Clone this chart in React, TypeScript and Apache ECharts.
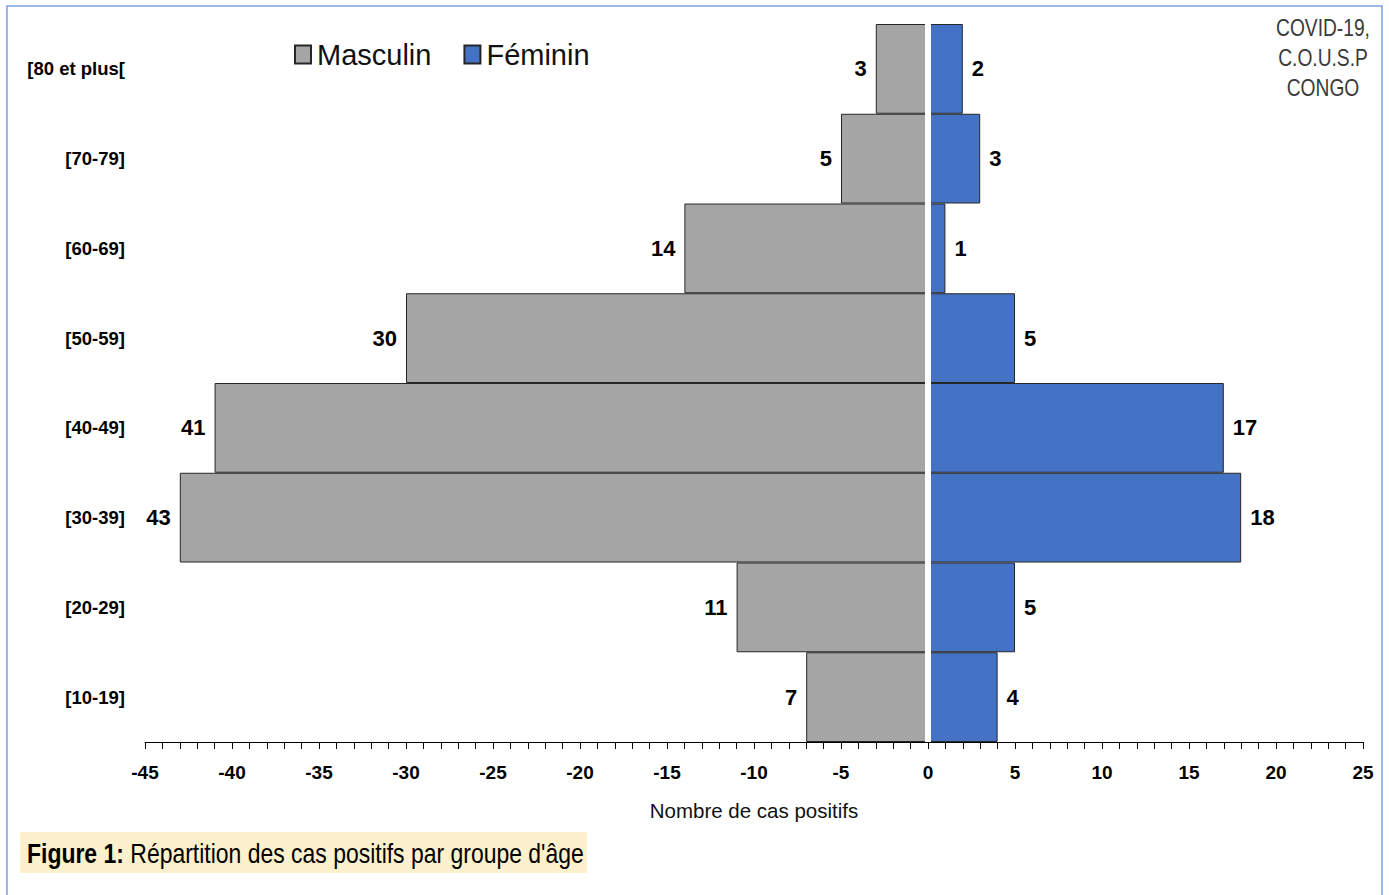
import React, { useEffect, useRef } from "react";
import * as echarts from "echarts";

const categories = ["[10-19]", "[20-29]", "[30-39]", "[40-49]", "[50-59]", "[60-69]", "[70-79]", "[80 et plus["];
const masculin = [7, 11, 43, 41, 30, 14, 5, 3];
const feminin = [4, 5, 18, 17, 5, 1, 3, 2];
const seriesNames = ["Masculin", "Féminin"];
const xMin = -45;
const xMax = 25;
const xStep = 5;

const FONT = "'Liberation Sans Narrow', 'Liberation Sans', Arial, sans-serif";

export default function App() {
  const ref = useRef<HTMLDivElement>(null);
  useEffect(() => {
    if (!ref.current) return;
    const chart = echarts.init(ref.current, null, { renderer: "svg" });
    chart.setOption({
      animation: false,
      backgroundColor: "#ffffff",
      textStyle: { fontFamily: FONT },
      grid: { left: 145, right: 26, top: 24, bottom: 153, containLabel: false, outerBoundsMode: "none" },
      legend: {
        left: 289,
        top: 35,
        icon: "rect",
        itemWidth: 16,
        itemHeight: 18,
        itemGap: 32,
        data: seriesNames,
        textStyle: { fontFamily: FONT, fontSize: 29, color: "#111", padding: [0, 0, 0, 1] },
      },
      xAxis: {
        type: "value",
        min: xMin,
        max: xMax,
        interval: xStep,
        splitLine: { show: false },
        axisLine: { show: true, lineStyle: { color: "#000", width: 1 } },
        axisTick: { show: true, length: 7, lineStyle: { color: "#000" } },
        minorTick: { show: true, splitNumber: 5, length: 7, lineStyle: { color: "#000" } },
        axisLabel: { fontFamily: FONT, fontSize: 19, fontWeight: "bold", color: "#000", margin: 21 },
        name: "Nombre de cas positifs",
        nameLocation: "middle",
        nameGap: 58,
        nameTextStyle: { fontFamily: FONT, fontSize: 20.5, color: "#111" },
      },
      yAxis: {
        type: "category",
        data: categories,
        axisLine: { show: false },
        axisTick: { show: false },
        axisLabel: { fontFamily: FONT, fontSize: 18.5, fontWeight: "bold", color: "#000", margin: 20 },
      },
      series: [
        {
          name: seriesNames[0],
          type: "bar",
          data: masculin.map((v) => -v),
          barGap: "-100%",
          barCategoryGap: 0,
          itemStyle: { color: "#a5a5a5", borderColor: "#262626", borderWidth: 1 },
          label: {
            show: true,
            position: "left",
            distance: 9,
            formatter: (p: any) => String(Math.abs(p.value)),
            fontFamily: FONT,
            fontSize: 22,
            fontWeight: "bold",
            color: "#000",
          },
        },
        {
          name: seriesNames[1],
          type: "bar",
          data: feminin,
          barGap: "-100%",
          barCategoryGap: 0,
          itemStyle: { color: "#4472c4", borderColor: "#262626", borderWidth: 1 },
          label: {
            show: true,
            position: "right",
            distance: 9,
            fontFamily: FONT,
            fontSize: 22,
            fontWeight: "bold",
            color: "#000",
          },
          markLine: {
            silent: true,
            symbol: "none",
            label: { show: false },
            lineStyle: { color: "#ffffff", width: 6, type: "solid" },
            data: [{ xAxis: 0 }],
            z: 10,
          },
        },
      ],
      graphic: [
        {
          type: "rect",
          shape: { x: 7, y: 6, width: 1375, height: 900 },
          style: { fill: "none", stroke: "#7b9fe0", lineWidth: 1.5 },
          silent: true,
        },
        {
          type: "text",
          x: 1323,
          y: 13,
          scaleX: 0.8,
          style: {
            text: "COVID-19,\nC.O.U.S.P\nCONGO",
            align: "center",
            verticalAlign: "top",
            fill: "#3a3a3a",
            fontFamily: "'Liberation Sans', sans-serif",
            fontSize: 24,
            lineHeight: 30,
            fontWeight: "normal",
          },
        },
        {
          type: "rect",
          shape: { x: 20, y: 832, width: 567, height: 41 },
          style: { fill: "#fdf0cc" },
          silent: true,
        },
        {
          type: "text",
          x: 27,
          y: 853,
          scaleX: 0.82,
          style: {
            text: "{b|Figure 1:}{n| Répartition des cas positifs par groupe d'âge}",
            verticalAlign: "middle",
            rich: {
              b: { fontFamily: "'Liberation Sans', sans-serif", fontSize: 28, fontWeight: "bold", fill: "#000" },
              n: { fontFamily: "'Liberation Sans', sans-serif", fontSize: 28, fill: "#000" },
            },
          },
        },
      ],
    });
    return () => chart.dispose();
  }, []);
  return (
    <div
      ref={ref}
      style={{ position: "absolute", left: 0, top: 0, width: 1389, height: 895 }}
    />
  );
}
